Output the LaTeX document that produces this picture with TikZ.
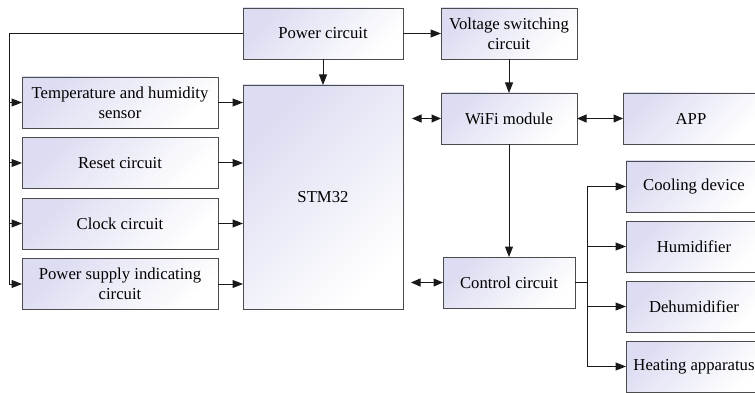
\documentclass[tikz,border=0pt]{standalone}
\usepackage{fontspec}
\setmainfont{Liberation Serif}
\usetikzlibrary{arrows.meta, positioning, calc}
\definecolor{boxlav}{RGB}{220,220,242}
\definecolor{boxline}{RGB}{75,75,75}
\definecolor{wire}{RGB}{25,25,25}

\begin{document}
\begin{tikzpicture}[
  x=1pt, y=-1pt,
  box/.style={rectangle, draw=boxline, line width=0.9pt,
              top color=boxlav, bottom color=white, shading angle=45,
              minimum height=51pt, inner sep=2pt, outer sep=0pt,
              align=center, font=\rmfamily\fontsize{16.7}{20}\selectfont},
  arr/.style={-{Triangle[length=10.5pt, width=8pt]}, line width=1pt, draw=wire},
  darr/.style={{Triangle[length=9.5pt, width=8pt]}-{Triangle[length=9.5pt, width=8pt]},
               line width=1pt, draw=wire},
  wire/.style={line width=1pt, draw=wire},
]
  \useasboundingbox (0,0) rectangle (755,393);

  % Centre column
  \node[box, minimum width=160pt] (power) at (323,33.5) {Power circuit};
  \node[box, minimum width=160pt, minimum height=224pt] (stm) at (323,197) {STM32};

  % Left column
  \node[box, minimum width=196pt] (temp) at (120,102.5) {Temperature and humidity\\sensor};
  \node[box, minimum width=196pt, below=9.5pt of temp]  (reset) {Reset circuit};
  \node[box, minimum width=196pt, below=9.5pt of reset] (clock) {Clock circuit};
  \node[box, minimum width=196pt, below=9.5pt of clock] (psu)   {Power supply indicating\\circuit};

  % WiFi side
  \node[box, minimum width=136pt] (volt) at (509,33.5) {Voltage switching\\circuit};
  \node[box, minimum width=136pt] (wifi) at (509,118.5) {WiFi module};
  \node[box, minimum width=136pt, right=46pt of wifi] (app) {APP};
  \node[box, minimum width=132pt] (ctrl) at (509,282.5) {Control circuit};

  % Actuators
  \node[box, minimum width=136pt] (cool) at (694,186.5) {Cooling device};
  \node[box, minimum width=136pt, below=9pt of cool]  (hum)   {Humidifier};
  \node[box, minimum width=136pt, below=9pt of hum]   (dehum) {Dehumidifier};
  \node[box, minimum width=136pt, below=9pt of dehum] (heat)  {Heating apparatus};

  % Power feed
  \draw[arr] (power.west) -| ([xshift=-13pt]psu.west) -- (psu.west);
  \foreach \n in {temp,reset,clock} {
    \draw[arr] ([xshift=-13pt]\n.west) -- (\n.west);
  }
  \foreach \n in {temp,reset,clock,psu} {
    \draw[arr] (\n.east) -- (\n.east -| stm.west);
  }
  \draw[arr] (power) -- (stm);
  \draw[arr] (power) -- (volt);
  \draw[arr] (volt) -- (wifi);

  % Links
  \draw[darr] ([xshift=9pt]stm.east |- wifi.west) -- (wifi.west);
  \draw[darr] (wifi) -- (app);
  \draw[arr] (wifi) -- (ctrl);
  \draw[darr] ([xshift=8pt]stm.east |- ctrl.west) -- (ctrl.west);

  % Control outputs
  \coordinate (split) at ([xshift=12pt]ctrl.east);
  \draw[wire] (ctrl.east) -- (split);
  \draw[wire] (split |- cool.west) -- (split |- heat.west);
  \foreach \n in {cool,hum,dehum,heat} {
    \draw[arr] (split |- \n.west) -- (\n.west);
  }
\end{tikzpicture}
\end{document}
